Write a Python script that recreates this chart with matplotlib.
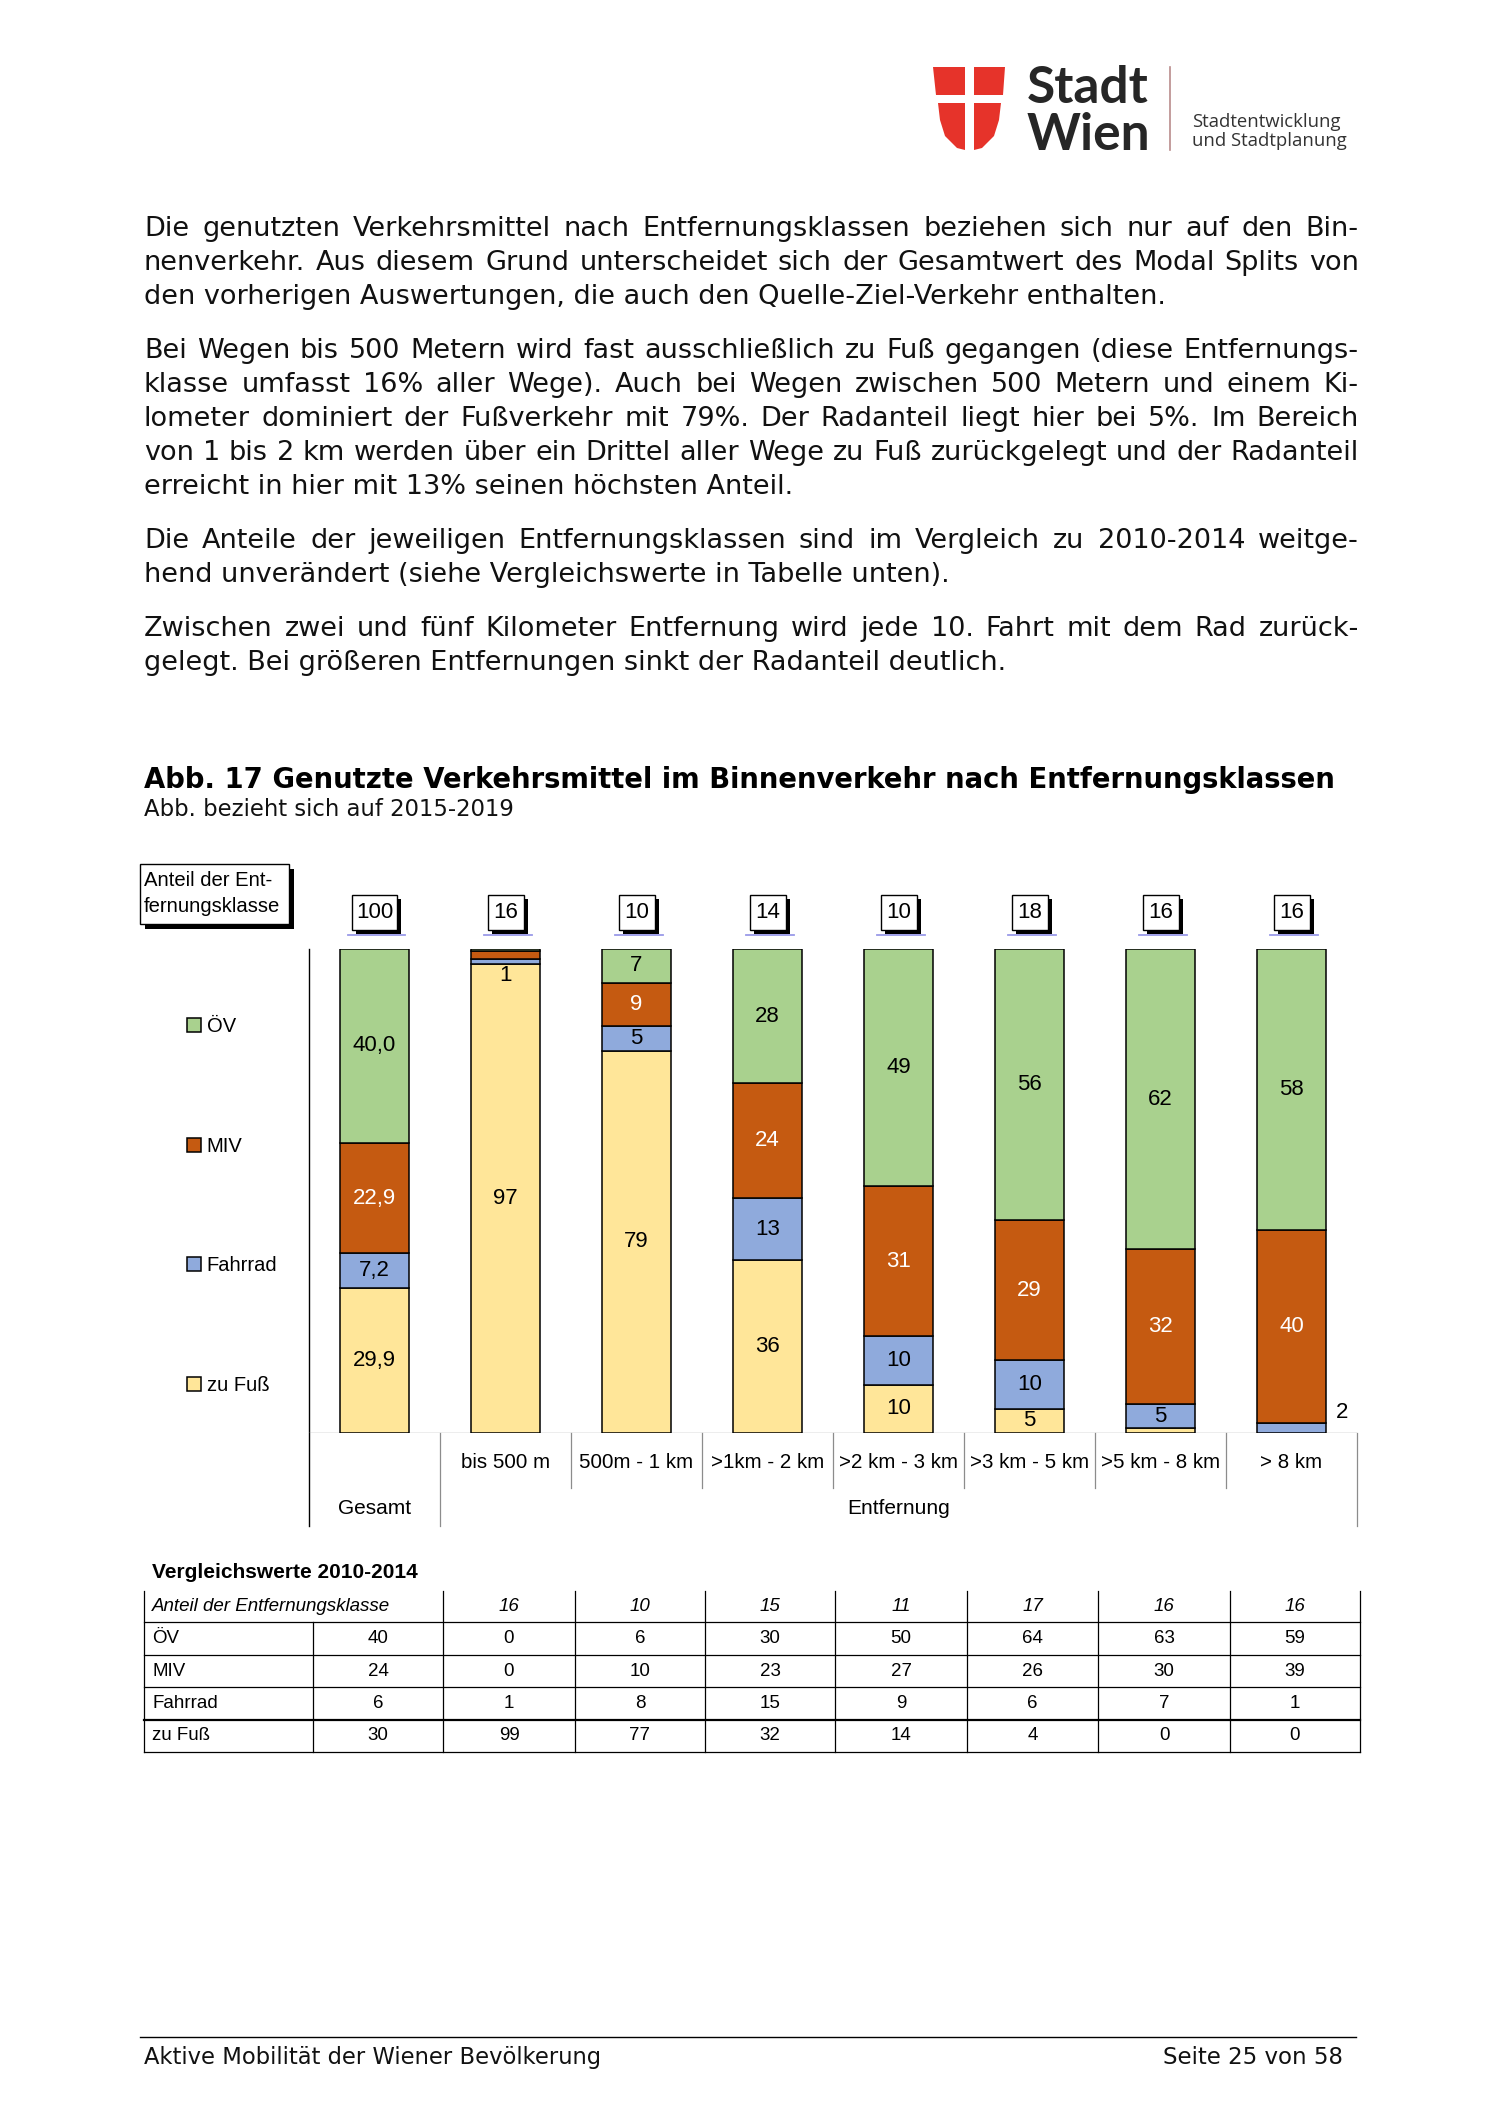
import numpy as np
import matplotlib
matplotlib.use("Agg")
import matplotlib.pyplot as plt
from matplotlib.patches import Rectangle, Polygon
from matplotlib.transforms import blended_transform_factory

W, H = 1504, 2126

# ---- chart data (Binnenverkehr 2015-2019) ----
categories = ["Gesamt", "bis 500 m", "500m - 1 km", ">1km - 2 km", ">2 km - 3 km",
              ">3 km - 5 km", ">5 km - 8 km", "> 8 km"]
class_share = ["100", "16", "10", "14", "10", "18", "16", "16"]
modes = ["zu Fuß", "Fahrrad", "MIV", "ÖV"]
zu_fuss = [29.9, 97, 79, 36, 10, 5, 1, 0]
fahrrad = [7.2, 1, 5, 13, 10, 10, 5, 2]
miv = [22.9, 1.5, 9, 24, 31, 29, 32, 40]
oev = [40.0, 0.5, 7, 28, 49, 56, 62, 58]
fuss_lbl = ["29,9", "97", "79", "36", "10", "5", "", ""]
rad_lbl = ["7,2", "1", "5", "13", "10", "10", "5", "2"]
miv_lbl = ["22,9", "", "9", "24", "31", "29", "32", "40"]
oev_lbl = ["40,0", "", "7", "28", "49", "56", "62", "58"]
colors = ["#ffe699", "#8faadc", "#c55a11", "#a9d18e"]
lbl_colors = ["black", "black", "white", "black"]

# ---- Vergleichswerte 2010-2014 ----
cmp_share = ["16", "10", "15", "11", "17", "16", "16"]
cmp_rows = ["ÖV", "MIV", "Fahrrad", "zu Fuß"]
cmp_oev = [40, 0, 6, 30, 50, 64, 63, 59]
cmp_miv = [24, 0, 10, 23, 27, 26, 30, 39]
cmp_rad = [6, 1, 8, 15, 9, 6, 7, 1]
cmp_fuss = [30, 99, 77, 32, 14, 4, 0, 0]

paragraphs = [
    ["Die genutzten Verkehrsmittel nach Entfernungsklassen beziehen sich nur auf den Bin-",
     "nenverkehr. Aus diesem Grund unterscheidet sich der Gesamtwert des Modal Splits von",
     "den vorherigen Auswertungen, die auch den Quelle-Ziel-Verkehr enthalten."],
    ["Bei Wegen bis 500 Metern wird fast ausschließlich zu Fuß gegangen (diese Entfernungs-",
     "klasse umfasst 16% aller Wege). Auch bei Wegen zwischen 500 Metern und einem Ki-",
     "lometer dominiert der Fußverkehr mit 79%. Der Radanteil liegt hier bei 5%. Im Bereich",
     "von 1 bis 2 km werden über ein Drittel aller Wege zu Fuß zurückgelegt und der Radanteil",
     "erreicht in hier mit 13% seinen höchsten Anteil."],
    ["Die Anteile der jeweiligen Entfernungsklassen sind im Vergleich zu 2010-2014 weitge-",
     "hend unverändert (siehe Vergleichswerte in Tabelle unten)."],
    ["Zwischen zwei und fünf Kilometer Entfernung wird jede 10. Fahrt mit dem Rad zurück-",
     "gelegt. Bei größeren Entfernungen sinkt der Radanteil deutlich."],
]
para_y = [236, 358, 548, 636]

NARROW = ["Liberation Sans", "DejaVu Sans"]
BODY = ["DejaVu Sans"]

fig = plt.figure(figsize=(W / 100, H / 100), dpi=100)
page = fig.add_axes([0, 0, 1, 1])
page.set_xlim(0, W)
page.set_ylim(H, 0)
page.axis("off")
renderer = fig.canvas.get_renderer()


def width_of(s, size, **kw):
    t = page.text(0, 0, s, fontsize=size, **kw)
    w = t.get_window_extent(renderer).width
    t.remove()
    return w


def fit(x0, x1, y, s, size, ha="left", **kw):
    t = page.text(x0 if ha == "left" else x1, y, s, fontsize=size, va="baseline",
                  ha=ha, **kw)
    w = t.get_window_extent(renderer).width
    t.set_fontsize(size * (x1 - x0) / w)
    return t


def justify(x0, x1, y, line, size, last=False, **kw):
    if last:
        page.text(x0, y, line, fontsize=size, va="baseline", **kw)
        return
    words = line.split(" ")
    ts = [page.text(0, y, w, fontsize=size, va="baseline", **kw) for w in words]
    widths = [t.get_window_extent(renderer).width for t in ts]
    gap = (x1 - x0 - sum(widths)) / (len(words) - 1)
    xx = x0
    for t, w in zip(ts, widths):
        t.set_x(xx)
        xx += w + gap


# ---- logo ----
red = "#e6332a"
for pts in [[(933, 67), (965, 67), (965, 95), (936, 95)],
            [(974, 67), (1005, 67), (1003, 95), (974, 95)],
            [(938, 103), (965, 103), (965, 150), (957, 148), (945, 136), (940, 120)],
            [(1001, 103), (974, 103), (974, 150), (982, 148), (994, 136), (999, 120)]]:
    page.add_patch(Polygon(pts, closed=True, facecolor=red, edgecolor="none"))
page.text(1027, 103, "Stadt", fontsize=37, family=["Lato", "DejaVu Sans"],
          weight="bold", color="#262626", va="baseline")
page.text(1027, 150, "Wien", fontsize=37, family=["Lato", "DejaVu Sans"],
          weight="bold", color="#262626", va="baseline")
page.plot([1170, 1170], [67, 150], color="#b98b8b", lw=1.2)
page.text(1192, 127, "Stadtentwicklung", fontsize=13.3, family=["Open Sans", "DejaVu Sans"],
          color="#333333", va="baseline")
page.text(1192, 146, "und Stadtplanung", fontsize=13.3, family=["Open Sans", "DejaVu Sans"],
          color="#333333", va="baseline")

# ---- body text (justified) ----
full_lines = [l for p in paragraphs for l in p[:-1]]
widest = max(width_of(l, 17, family=BODY) for l in full_lines)
body_size = 17 * 1208 / widest
for lines, y0 in zip(paragraphs, para_y):
    for k, line in enumerate(lines):
        justify(144, 1359, y0 + k * 33.9, line, body_size, last=(k == len(lines) - 1),
                family=BODY, color="#111111")

fit(144, 1344, 788, "Abb. 17 Genutzte Verkehrsmittel im Binnenverkehr nach Entfernungsklassen",
    18, family=BODY, weight="bold", color="black")
fit(144, 515, 816, "Abb. bezieht sich auf 2015-2019", 14, family=BODY, color="#111111")

# ---- chart ----
ax = fig.add_axes([309 / W, 1 - 1433 / H, (1357 - 309) / W, 484 / H])
ax.set_facecolor("none")
x = np.arange(len(categories))
series = [zu_fuss, fahrrad, miv, oev]
labels = [fuss_lbl, rad_lbl, miv_lbl, oev_lbl]
totals = np.sum(series, axis=0)
bottom = np.zeros(len(categories))
ax.axhline(0, color="#a6a6a6", lw=1.0, zorder=1)
LBL = 16
for vals, col, lbls, lc, name in zip(series, colors, labels, lbl_colors, modes):
    v = np.array(vals) / totals * 100
    ax.bar(x, v, 0.53, bottom=bottom, color=col, edgecolor="black", linewidth=1.1,
           zorder=3, label=name)
    for i in range(len(x)):
        if not lbls[i]:
            continue
        if v[i] >= 3:
            ax.text(x[i], bottom[i] + v[i] / 2, lbls[i], ha="center", va="center",
                    color=lc, fontsize=LBL, family=NARROW, zorder=4)
        elif i == len(x) - 1:
            ax.text(x[i] + 0.34, bottom[i] + v[i], lbls[i], ha="left", va="bottom",
                    color="black", fontsize=LBL, family=NARROW, zorder=4)
        else:
            ax.text(x[i], bottom[i] - 0.4, lbls[i], ha="center", va="top",
                    color=lc, fontsize=LBL, family=NARROW, zorder=4)
    bottom += v
ax.set_xlim(-0.5, len(categories) - 0.5)
ax.set_ylim(0, 100)
ax.axis("off")

trans = blended_transform_factory(ax.transData, page.transData)
upx = (1357 - 309) / len(categories)

# category axis below the bars
page.plot([-0.5, -0.5], [949, 1526], transform=trans, color="black", lw=1.0)
for i in range(len(categories)):
    xb = x[i] + 0.5
    y_end = 1526 if i in (0, len(categories) - 1) else 1488
    page.plot([xb, xb], [1433, y_end], transform=trans, color="#8c8c8c", lw=0.9)
    if i > 0:
        page.text(x[i], 1463, categories[i], transform=trans, ha="center", va="center",
                  fontsize=14.8, family=NARROW)
page.text(x[0], 1509, categories[0], transform=trans, ha="center", va="center",
          fontsize=15, family=NARROW)
page.text((x[1] + x[-1]) / 2, 1509, "Entfernung", transform=trans, ha="center",
          va="center", fontsize=15, family=NARROW)

# class share boxes
for xi, s in zip(x, class_share):
    wpx = 9 * len(s) + 18
    dx = wpx / upx
    page.add_patch(Rectangle((xi - dx / 2 + 4 / upx, 899), dx, 35, transform=trans,
                             facecolor="black", edgecolor="none"))
    page.add_patch(Rectangle((xi - dx / 2, 895), dx, 35, transform=trans,
                             facecolor="white", edgecolor="black", lw=1.0))
    page.text(xi, 913, s, transform=trans, ha="center", va="center", fontsize=16,
              family=NARROW)
    page.plot([xi - dx / 2 - 4 / upx, xi + dx / 2 + 8 / upx], [935, 935],
              transform=trans, color="#9a9ae8", lw=1.3)

# "Anteil der Entfernungsklasse" box
page.add_patch(Rectangle((145, 869), 149, 60, facecolor="black", edgecolor="none"))
page.add_patch(Rectangle((140, 864), 149, 60, facecolor="white", edgecolor="black", lw=1.0))
page.text(144, 880, "Anteil der Ent-", fontsize=14.6, family=NARROW, va="center")
page.text(144, 907, "fernungsklasse", fontsize=14.6, family=NARROW, va="center")

# legend
handles = [Rectangle((0, 0), 1, 1, facecolor=c, edgecolor="black", lw=1.1)
           for c in colors[::-1]]
fig.legend(handles, modes[::-1], loc="center left", bbox_to_anchor=(187, 1206),
           bbox_transform=page.transData, frameon=False,
           prop={"family": NARROW, "size": 14.5}, handlelength=0.68, handleheight=0.68,
           handletextpad=0.3, labelspacing=5.0, borderpad=0, borderaxespad=0)

# ---- comparison table ----
col_x = [144, 313, 443, 575, 705, 835, 967, 1098, 1230, 1360]
row_y = [1591, 1622, 1655, 1687, 1720, 1752]
page.text(152, 1573, "Vergleichswerte 2010-2014", fontsize=15, weight="bold",
          family=NARROW, va="center")
for k, yy in enumerate(row_y[1:]):
    page.plot([col_x[0], col_x[-1]], [yy, yy], color="black",
              lw=1.6 if k == 3 else 0.9)
for j, xx in enumerate(col_x):
    page.plot([xx, xx], [row_y[1] if j == 1 else row_y[0], row_y[-1]], color="black", lw=0.9)
ctr = lambda j: (col_x[j] + col_x[j + 1]) / 2
ym = lambda r: (row_y[r] + row_y[r + 1]) / 2
TS = 13.5
page.text(152, ym(0), "Anteil der Entfernungsklasse", fontsize=TS, style="italic",
          family=NARROW, va="center")
for j, s in enumerate(cmp_share):
    page.text(ctr(j + 2), ym(0), s, fontsize=TS, style="italic", family=NARROW,
              ha="center", va="center")
for r, (name, vals) in enumerate(zip(cmp_rows, [cmp_oev, cmp_miv, cmp_rad, cmp_fuss])):
    page.text(152, ym(r + 1), name, fontsize=TS, family=NARROW, va="center")
    for j, v in enumerate(vals):
        page.text(ctr(j + 1), ym(r + 1), str(v), fontsize=TS, family=NARROW,
                  ha="center", va="center")

# ---- footer ----
page.plot([140, 1356], [2037, 2037], color="black", lw=1.0)
fit(144, 602, 2064, "Aktive Mobilität der Wiener Bevölkerung", 14, family=BODY,
    color="#111111")
fit(1162, 1343, 2064, "Seite 25 von 58", 14, ha="right", family=BODY, color="#111111")

fig.savefig("out.png", dpi=100)
